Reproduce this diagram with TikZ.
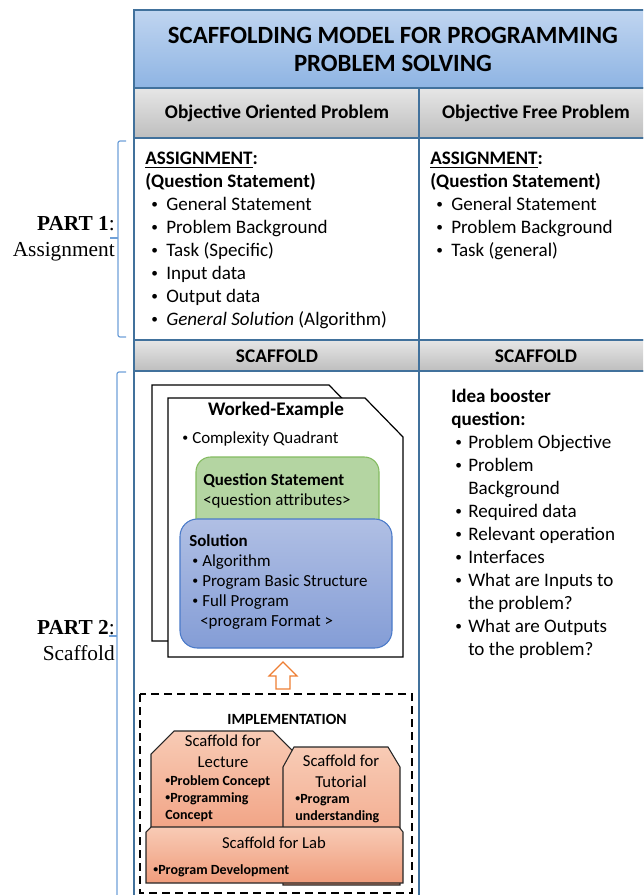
\documentclass[tikz,border=0pt]{standalone}
\usepackage{fontspec}
\usepackage{graphicx}
\setmainfont{Carlito}
\newfontfamily\partfont{Liberation Serif}
\usetikzlibrary{positioning,calc}

\definecolor{titletop}{HTML}{C0D5F0}
\definecolor{titlebot}{HTML}{8EB4E3}
\definecolor{gridblue}{HTML}{41719C}
\definecolor{headtop}{HTML}{E6E6E6}
\definecolor{headbot}{HTML}{BEBEBE}
\definecolor{bracecol}{HTML}{6FA0D8}
\definecolor{qsfill}{HTML}{B4D5A2}
\definecolor{qsline}{HTML}{84BB60}
\definecolor{soltop}{HTML}{B0BFE4}
\definecolor{solbot}{HTML}{849DD6}
\definecolor{solline}{HTML}{4A7AC9}
\definecolor{scaftop}{HTML}{F8CBB5}
\definecolor{scafbot}{HTML}{F09C7C}
\definecolor{arrline}{HTML}{EE7E33}

% small bullet, and bullets for the lists
\newcommand{\dotb}{\raisebox{0.1em}{\scalebox{0.7}{\textbullet}}}
\newcommand{\lbul}{\hspace*{4.5pt}\makebox[11.25pt][l]{\dotb}}
\newcommand{\ibul}{\hspace*{3pt}\makebox[9.75pt][l]{\dotb}}
\newcommand{\wbul}{\makebox[7.5pt][l]{\dotb}}
\newcommand{\sbul}{\makebox[3.75pt][l]{\dotb}}

\begin{document}
\begin{tikzpicture}[x=0.75pt, y=-0.75pt,
  cell/.style={draw=gridblue, line width=1.3pt},
  head/.style={cell, top color=headtop, bottom color=headbot},
  headtext/.style={inner sep=0pt, font=\fontsize{14.5}{17}\selectfont\bfseries},
  list/.style={anchor=north west, inner sep=0pt, align=left,
               font=\fontsize{14.3}{17.25}\selectfont},
  page/.style={draw=black, fill=white, line width=0.9pt},
  wetext/.style={anchor=north west, inner sep=0pt, align=left,
                 font=\fontsize{12.7}{15}\selectfont},
  scafbox/.style={draw=black!85, line width=0.8pt, top color=scaftop, bottom color=scafbot},
  small/.style={inner sep=0pt, align=center, font=\fontsize{12.5}{15.75}\selectfont},
  smallbold/.style={anchor=north west, inner sep=0pt, align=left,
                    font=\fontsize{10.5}{12.75}\selectfont\bfseries},
  bracket/.style={draw=bracecol, line width=0.9pt, rounded corners=1.5pt},
  parttext/.style={anchor=east, align=right, inner sep=0pt,
                   font=\partfont\fontsize{16}{19.5}\selectfont}
]
  \useasboundingbox (0,0) rectangle (643,895);
  \clip (0,0) rectangle (643,895);

  % table frame
  \draw[cell, top color=titletop, bottom color=titlebot] (134,10) rectangle (652,88);
  \draw[head] (134,88) rectangle (419,138);
  \draw[head] (419,88) rectangle (652,138);
  \draw[cell] (134,138) rectangle (419,340);
  \draw[cell] (419,138) rectangle (652,340);
  \draw[head] (134,340) rectangle (419,371);
  \draw[head] (419,340) rectangle (652,371);
  \draw[cell] (134,371) rectangle (419,930);
  \draw[cell] (419,371) rectangle (652,930);

  \node[align=center, font=\fontsize{18.6}{21}\selectfont\bfseries] (title) at (393,49)
    {SCAFFOLDING MODEL FOR PROGRAMMING\\PROBLEM SOLVING};
  \node[headtext] (horiented) at (277,113) {Objective Oriented Problem};
  \node[headtext] (hfree) at (536,113) {Objective Free Problem};
  \node[headtext] (scafleft) at (277,356) {SCAFFOLD};
  \node[headtext] (scafright) at (536,356) {SCAFFOLD};

  % part 1
  \node[list] (asgoriented) at (145,152)
    {\textbf{\underline{ASSIGNMENT}:}\\
     \textbf{(Question Statement)}\\
     \lbul General Statement\\
     \lbul Problem Background\\
     \lbul Task (Specific)\\
     \lbul Input data\\
     \lbul Output data\\
     \lbul \textit{General Solution} (Algorithm)};
  \node[list] (asgfree) at (430,152)
    {\textbf{\underline{ASSIGNMENT}:}\\
     \textbf{(Question Statement)}\\
     \lbul General Statement\\
     \lbul Problem Background\\
     \lbul Task (general)};

  % part 2, right
  \node[list] (idea) at (451,389)
    {\textbf{Idea booster}\\
     \textbf{question:}\\
     \ibul Problem Objective\\
     \ibul Problem\\
     \hspace*{12.75pt}Background\\
     \ibul Required data\\
     \ibul Relevant operation\\
     \ibul Interfaces\\
     \ibul What are Inputs to\\
     \hspace*{12.75pt}the problem?\\
     \ibul What are Outputs\\
     \hspace*{12.75pt}to the problem?};

  % worked example pages
  \draw[page] (152,385) -- (329,385) -- (367,424) -- (367,641) -- (152,641) -- cycle;
  \draw[page] (168,398) -- (365,398) -- (403,437) -- (403,657) -- (168,657) -- cycle;
  \node[inner sep=0pt, font=\fontsize{14.4}{17}\selectfont\bfseries] (wetitle) at (276,410) {Worked-Example};
  \node[wetext, anchor=west] (complexity) at (182,439) {\wbul Complexity Quadrant};

  \draw[fill=qsfill, draw=qsline, line width=0.8pt, rounded corners=11pt] (196,457) rectangle (379,575);
  \node[wetext] (qstate) at (203,473)
    {\textbf{Question Statement}\\ <question attributes>};
  \draw[draw=solline, line width=0.8pt, top color=soltop, bottom color=solbot,
        rounded corners=13pt] (180,519) rectangle (392,648);
  \node[wetext] (solution) at (189,534)
    {\textbf{Solution}\\
     \hspace*{2.25pt}\wbul Algorithm\\
     \hspace*{2.25pt}\wbul Program Basic Structure\\
     \hspace*{2.25pt}\wbul Full Program\\
     \hspace*{8.25pt}<program Format >};

  % hollow arrow up
  \coordinate (uptip) at (283,662);
  \draw[draw=arrline, fill=white, line width=0.9pt] (uptip) -- ++(14,14) -- ++(-7,0) -- ++(0,13)
    -- ++(-14,0) -- ++(0,-13) -- ++(-7,0) -- cycle;

  % implementation
  \draw[line width=1.6pt, dash pattern=on 6pt off 3.75pt] (140,694) rectangle (412,893);
  \node[inner sep=0pt, font=\fontsize{11.7}{14}\selectfont\bfseries] (impl) at (287,719) {IMPLEMENTATION};

  \draw[scafbox] (151,754) -- (174,731) -- (273,731) -- (295,753) -- (295,850) -- (151,850) -- cycle;
  \draw[scafbox] (283,767) -- (294,747) -- (388,747) -- (400,767) -- (400,885) -- (283,885) -- cycle;
  \draw[scafbox] (146,832) -- (151,827) -- (399,827) -- (403,832) -- (403,883) -- (146,883) -- cycle;

  \node[small] (lecture) at (223,751.5) {Scaffold for\\Lecture};
  \node[smallbold] (lectureitems) at (165,775)
    {\sbul Problem Concept\\ \sbul Programming\\ Concept};
  \node[small] (tutorial) at (341,771) {Scaffold for\\Tutorial};
  \node[smallbold] (tutorialitems) at (295,794)
    {\sbul Program\\ understanding};
  \node[small] (lab) at (274,843) {Scaffold for Lab};
  \node[smallbold] (labitems) at (153,864) {\sbul Program Development};

  % part labels and brackets
  \node[parttext] (partone) at (115,239) {\textbf{PART 1}:\\Assignment};
  \draw[bracket] (126,141) -- (118,141) -- (118,337) -- (126,337);
  \draw[bracket] (118,238) -- (110,238);

  \node[parttext] (parttwo) at (115,641) {\textbf{PART 2}:\\Scaffold};
  \draw[bracket] (126,372) -- (117,372) -- (117,930);
  \draw[bracket] (117,636) -- (109,636);
\end{tikzpicture}
\end{document}
